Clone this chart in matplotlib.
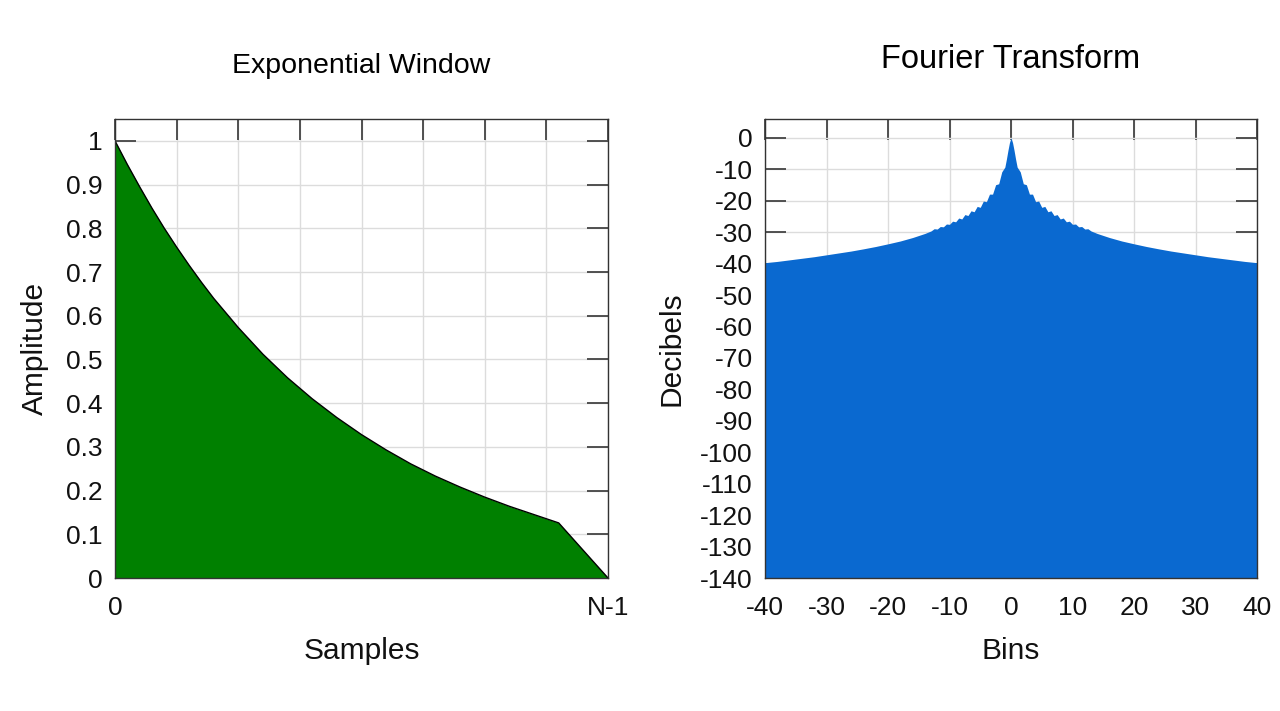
import numpy as np
import matplotlib.pyplot as plt

# Exponential window (x as fraction of N-1)
sample_pos = [0.000, 0.025, 0.050, 0.075, 0.100, 0.125, 0.150, 0.175, 0.200,
              0.250, 0.300, 0.350, 0.400, 0.450, 0.500, 0.550, 0.600, 0.650,
              0.700, 0.750, 0.800, 0.850, 0.900, 1.000]
amplitude = [1.000, 0.946, 0.895, 0.846, 0.800, 0.757, 0.716, 0.677, 0.640,
             0.573, 0.512, 0.458, 0.410, 0.367, 0.328, 0.293, 0.261, 0.233,
             0.208, 0.185, 0.164, 0.145, 0.126, 0.000]

# Fourier transform magnitude (dB), positive half; the picture is symmetric
bins_pos = [0.0, 0.25, 0.5, 0.75, 1.0, 1.5, 2.0, 2.5, 3.0, 3.5, 4.0, 4.5, 5.0, 5.5,
            6.0, 6.5, 7.0, 7.5, 8.0, 8.5, 9.0, 9.5, 10.0, 10.5, 11.0, 11.5, 12.0,
            12.5, 13.0, 14, 16, 18, 20, 22, 24, 26, 28, 30, 32, 34, 36, 38, 40]
db_pos = [0.0, -1.5, -4.0, -6.8, -9.3, -10.8, -14.6, -14.9, -17.9, -17.9, -20.3,
          -20.1, -22.1, -21.8, -23.5, -23.2, -24.7, -24.4, -25.8, -25.5, -26.7,
          -26.5, -27.5, -27.4, -28.3, -28.2, -29.0, -28.9, -29.6, -30.4, -31.7,
          -32.8, -33.7, -34.55, -35.3, -36.0, -36.6, -37.2, -37.8, -38.3, -38.8,
          -39.3, -39.7]

plt.rcParams['font.family'] = ['Liberation Sans', 'DejaVu Sans']
plt.rcParams['axes.unicode_minus'] = False

bins = np.concatenate([-np.array(bins_pos[:0:-1]), np.array(bins_pos)])
db = np.concatenate([np.array(db_pos[:0:-1]), np.array(db_pos)])

fig = plt.figure(figsize=(12.8, 7.11), dpi=100)
ax1 = fig.add_axes([115/1280, 133/711, 493/1280, 459/711])
ax2 = fig.add_axes([765/1280, 133/711, 492/1280, 459/711])


def style_axes(ax):
    ax.set_axisbelow(True)
    ax.grid(True, color='#dcdcdc', linewidth=1.0)
    ax.tick_params(direction='in', length=15, width=1.3, color='#444444',
                   top=True, right=True, labelsize=19, labelcolor='#111111')
    # bottom ticks are hidden under the fill in the original
    ax.tick_params(axis='x', bottom=False, labelbottom=True)
    for s in ax.spines.values():
        s.set_color('#333333')
        s.set_linewidth(1.0)
        s.set_zorder(3)


# Left: window
ax1.fill_between(sample_pos, 0, amplitude, color='#008000', zorder=1,
                 linewidth=0)
ax1.plot(sample_pos, amplitude, color='black', linewidth=1.0, zorder=2)
ax1.set_xlim(0, 1)
ax1.set_ylim(0, 1.05)
ax1.set_xticks(np.arange(0, 1.0001, 0.125))
ax1.set_xticklabels(['0', '', '', '', '', '', '', '', 'N-1'])
ax1.set_yticks(np.arange(0, 1.0001, 0.1))
ax1.set_yticklabels(['0', '0.1', '0.2', '0.3', '0.4', '0.5', '0.6', '0.7',
                     '0.8', '0.9', '1'])
style_axes(ax1)
ax1.tick_params(axis='x', pad=13)
ax1.tick_params(axis='y', pad=9)
ax1.set_xlabel('Samples', fontsize=21.5, labelpad=12, color='#111111')
ax1.set_ylabel('Amplitude', fontsize=21.5, labelpad=12, color='#111111')
ax1.set_title('Exponential Window', fontsize=20.5, pad=33)

# Right: spectrum
ax2.fill_between(bins, -140, db, color='#0a69d0', zorder=1, linewidth=0)
ax2.set_xlim(-40, 40)
ax2.set_ylim(-140, 6)
ax2.set_xticks(np.arange(-40, 41, 10))
ax2.set_yticks(np.arange(-140, 1, 10))
style_axes(ax2)
ax2.tick_params(axis='x', pad=13)
ax2.tick_params(axis='y', pad=9)
ax2.set_xlabel('Bins', fontsize=21.5, labelpad=12, color='#111111')
ax2.set_ylabel('Decibels', fontsize=21.5, labelpad=10, color='#111111')
ax2.set_title('Fourier Transform', fontsize=23.5, pad=37)

fig.savefig('out.png', dpi=100)
